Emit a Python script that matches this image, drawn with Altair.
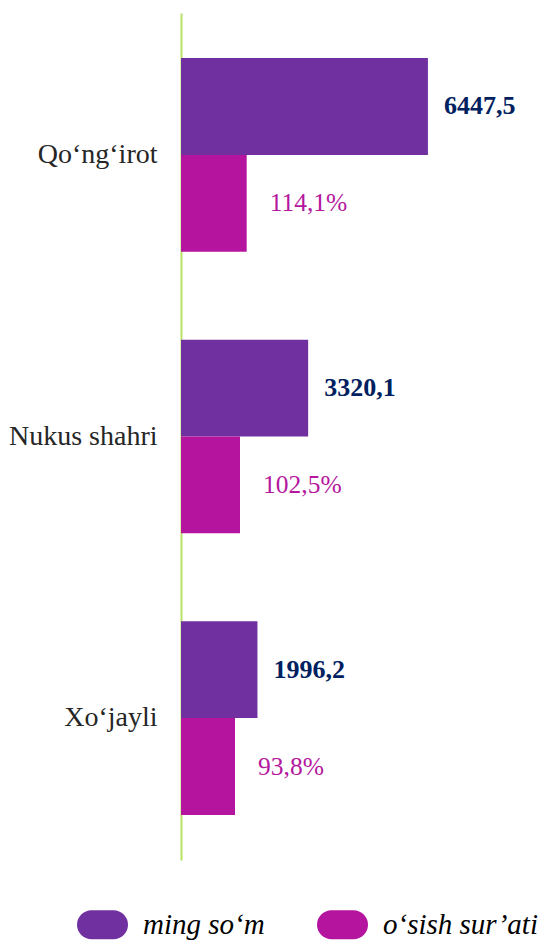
import altair as alt
import pandas as pd

regions = ["Qo‘ng‘irot", "Nukus shahri", "Xo‘jayli"]
series = ["ming so‘m", "o‘sish sur’ati"]
values_som = [6447.5, 3320.1, 1996.2]
values_pct = [114.1, 102.5, 93.8]
colors = ["#7030A0", "#B4149E"]

SERIF = "Liberation Serif, Times New Roman, serif"

df = pd.DataFrame({
    "region": regions * 2,
    "series": [series[0]] * 3 + [series[1]] * 3,
    "value": values_som + values_pct,
})

pill = ("M-0.431,-0.569 L0.431,-0.569 A0.569,0.569 0 0 1 0.431,0.569 "
        "L-0.431,0.569 A0.569,0.569 0 0 1 -0.431,-0.569 Z")

y_enc = alt.Y("region:N", sort=regions, title=None,
              scale=alt.Scale(paddingInner=0.312, paddingOuter=0.16),
              axis=alt.Axis(labelFont=SERIF, labelFontSize=28,
                            labelColor="#262626", labelPadding=24, ticks=False,
                            domainColor="#B8E268", domainWidth=2, grid=False))
yoff = alt.YOffset("series:N", scale=alt.Scale(domain=series, paddingInner=0, paddingOuter=0))
color_enc = alt.Color("series:N", scale=alt.Scale(domain=series, range=colors),
                      legend=alt.Legend(orient="none", legendX=-104, legendY=886,
                                        direction="horizontal", columns=2, title=None,
                                        symbolType=pill, symbolSize=2601,
                                        symbolStrokeWidth=0, symbolOpacity=1,
                                        labelFont=SERIF, labelFontStyle="italic",
                                        labelFontSize=29, labelColor="#000000",
                                        labelOffset=15, columnPadding=52, labelLimit=400))

base = alt.Chart(df)
som = base.transform_filter(alt.datum.series == series[0])
pct = base.transform_filter(alt.datum.series == series[1])

x_som = alt.X("value:Q", scale=alt.Scale(domain=[0, 9400]), axis=None, title=None)
x_pct = alt.X("value:Q", scale=alt.Scale(domain=[0, 625.3]), axis=None, title=None)

bar_som = som.mark_bar().encode(y=y_enc, yOffset=yoff, x=x_som, color=color_enc)
bar_pct = pct.mark_bar().encode(y=y_enc, yOffset=yoff, x=x_pct, color=color_enc)

txt_som = som.transform_calculate(
    lbl="replace(format(datum.value, '.1f'), '.', ',')"
).mark_text(align="left", baseline="middle", dx=16, font=SERIF,
            fontSize=26, fontWeight="bold", color="#002060").encode(
    y=alt.Y("region:N", sort=regions), yOffset=yoff, x=x_som, text="lbl:N")

txt_pct = pct.transform_calculate(
    lbl="replace(format(datum.value, '.1f'), '.', ',') + '%'"
).mark_text(align="left", baseline="middle", dx=23, font=SERIF,
            fontSize=25.5, color="#B5179E").encode(
    y=alt.Y("region:N", sort=regions), yOffset=yoff, x=x_pct, text="lbl:N")

chart = alt.layer(bar_som, bar_pct, txt_som, txt_pct).resolve_scale(
    x="independent"
).properties(
    width=360, height=847,
    autosize=alt.AutoSizeParams(type="none"),
    padding={"left": 173, "top": 5, "right": 0, "bottom": 80},
).configure_view(stroke=None)

chart.save("out.html", embed_options={"renderer": "svg", "actions": False})
